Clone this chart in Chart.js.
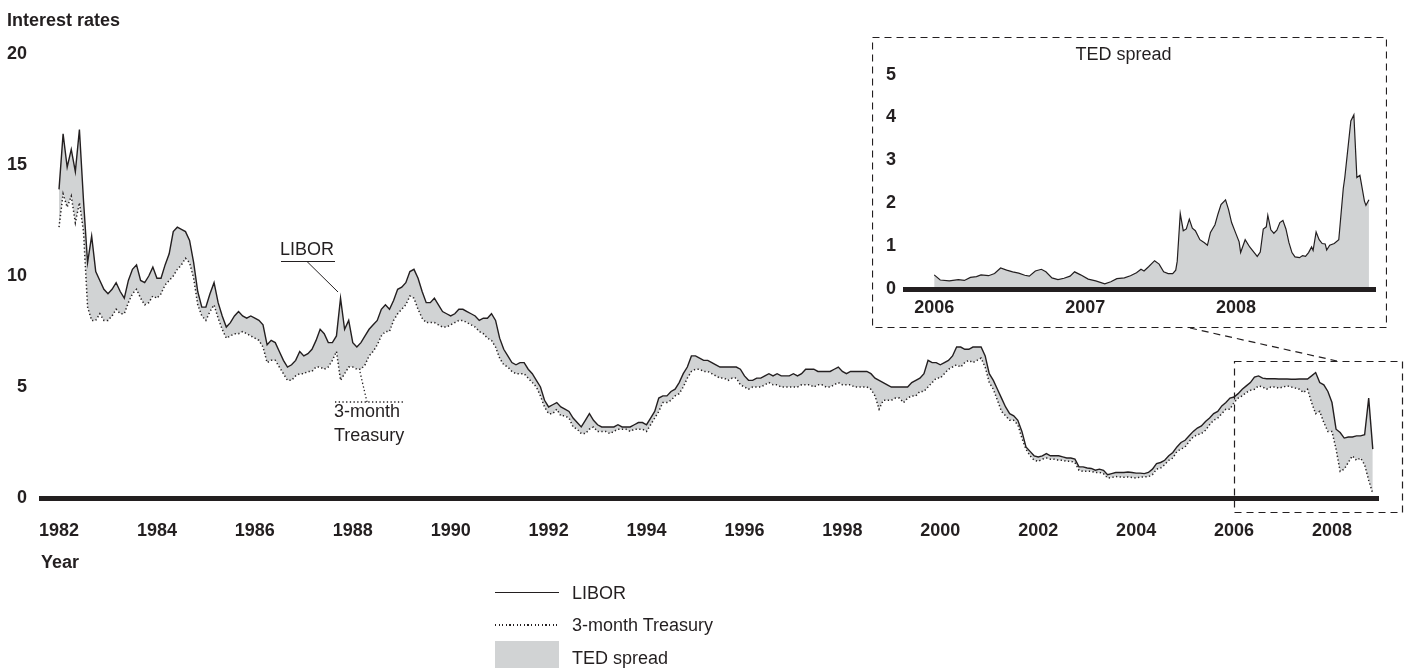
<!DOCTYPE html>
<html>
<head>
<meta charset="utf-8">
<script src="https://cdn.jsdelivr.net/npm/chart.js@4.4.1/dist/chart.umd.min.js"></script>
<style>
  body { margin: 0; background: #fff; }
  #wrap { position: relative; width: 1404px; height: 668px; font-family: "Liberation Sans", Arial, sans-serif; color: #231f20; }
  canvas { position: absolute; }
  .txt { position: absolute; font-size: 18px; line-height: 22px; white-space: nowrap; }
  .sw { position: absolute; left: 495px; width: 64px; }
</style>
</head>
<body>
<div id="wrap">
  <canvas id="main" width="1404" height="668" style="left:0;top:0"></canvas>
  <canvas id="inset" width="515" height="291" style="left:872px;top:37px"></canvas>
  <div class="txt" style="left:7px;top:9px;font-weight:bold">Interest rates</div>

  <div class="sw" style="top:592px;border-top:1.5px solid #231f20"></div>
  <div class="txt" style="left:572px;top:582px">LIBOR</div>
  <div class="sw" style="top:624px;height:1.5px;background:repeating-linear-gradient(to right,#231f20 0 1.3px,transparent 1.3px 3.6px)"></div>
  <div class="txt" style="left:572px;top:614px">3-month Treasury</div>
  <div class="sw" style="top:641px;height:27px;background:#d1d3d4"></div>
  <div class="txt" style="left:572px;top:647px">TED spread</div>
</div>
<script>
const ink = '#231f20';
const gray = '#d1d3d4';
const fam = '"Liberation Sans", Arial, sans-serif';

// monthly values, Jan 1982 .. Nov 2008
const startYear = 1982;
const libor = [
  13.9, 16.4, 14.9, 15.7, 14.7, 16.6, 13.4, 10.6, 11.8, 10.2, 9.8, 9.4,   // 1982
  9.2, 9.4, 9.7, 9.3, 9.0, 9.8, 10.3, 10.5, 9.8, 9.7, 10.0, 10.4,         // 1983
  9.9, 9.9, 10.5, 11.0, 12.0, 12.2, 12.1, 12.0, 11.6, 10.6, 9.3, 8.6,     // 1984
  8.6, 9.2, 9.7, 8.8, 8.2, 7.7, 7.9, 8.2, 8.4, 8.2, 8.1, 8.2,             // 1985
  8.1, 8.0, 7.8, 6.9, 7.1, 7.0, 6.6, 6.2, 5.9, 6.0, 6.2, 6.6,             // 1986
  6.4, 6.5, 6.7, 7.1, 7.6, 7.4, 7.0, 7.0, 7.3, 9.0, 7.6, 8.0,             // 1987
  7.0, 6.8, 7.0, 7.3, 7.6, 7.8, 8.0, 8.5, 8.7, 8.5, 8.9, 9.4,             // 1988
  9.5, 9.7, 10.2, 10.3, 9.9, 9.3, 8.8, 8.8, 9.0, 8.7, 8.4, 8.3,           // 1989
  8.2, 8.3, 8.5, 8.5, 8.4, 8.3, 8.2, 8.0, 8.1, 8.1, 8.3, 8.0,             // 1990
  7.2, 6.7, 6.4, 6.1, 6.0, 6.1, 6.1, 5.8, 5.6, 5.3, 5.0, 4.4,             // 1991
  4.1, 4.2, 4.3, 4.1, 4.0, 3.9, 3.6, 3.4, 3.2, 3.5, 3.8, 3.5,             // 1992
  3.3, 3.2, 3.2, 3.2, 3.2, 3.3, 3.2, 3.2, 3.2, 3.3, 3.4, 3.4,             // 1993
  3.3, 3.6, 3.9, 4.5, 4.6, 4.6, 4.8, 4.9, 5.2, 5.6, 5.9, 6.4,             // 1994
  6.4, 6.3, 6.2, 6.2, 6.1, 6.0, 5.9, 5.9, 5.9, 5.9, 5.9, 5.8,             // 1995
  5.5, 5.3, 5.3, 5.4, 5.4, 5.5, 5.6, 5.5, 5.6, 5.5, 5.5, 5.5,             // 1996
  5.6, 5.5, 5.6, 5.8, 5.8, 5.8, 5.7, 5.7, 5.7, 5.7, 5.8, 5.9,             // 1997
  5.7, 5.6, 5.7, 5.7, 5.7, 5.7, 5.7, 5.6, 5.4, 5.3, 5.2, 5.1,             // 1998
  5.0, 5.0, 5.0, 5.0, 5.0, 5.2, 5.3, 5.4, 5.6, 6.2, 6.1, 6.1,             // 1999
  6.0, 6.1, 6.2, 6.4, 6.8, 6.8, 6.7, 6.7, 6.8, 6.8, 6.8, 6.4,             // 2000
  5.6, 5.3, 4.9, 4.5, 4.1, 3.8, 3.7, 3.5, 3.0, 2.3, 2.1, 1.9,             // 2001
  1.85, 1.9, 2.0, 1.9, 1.9, 1.9, 1.85, 1.8, 1.8, 1.75, 1.4, 1.4,          // 2002
  1.35, 1.33, 1.25, 1.3, 1.25, 1.05, 1.1, 1.15, 1.15, 1.15, 1.17, 1.15,   // 2003
  1.12, 1.12, 1.1, 1.15, 1.3, 1.55, 1.6, 1.7, 1.9, 2.05, 2.3, 2.5,        // 2004
  2.6, 2.8, 3.0, 3.15, 3.25, 3.45, 3.6, 3.8, 3.9, 4.15, 4.3, 4.5,         // 2005
  4.55, 4.7, 4.9, 5.05, 5.2, 5.45, 5.5, 5.4, 5.37, 5.37, 5.37, 5.36,      // 2006
  5.36, 5.36, 5.35, 5.35, 5.36, 5.36, 5.36, 5.5, 5.65, 5.2, 5.1, 4.8,     // 2007
  4.3, 3.1, 2.95, 2.7, 2.75, 2.75, 2.8, 2.8, 2.85, 4.5, 2.2               // 2008
];
const treasury = [
  12.2, 13.7, 13.1, 13.6, 12.4, 13.3, 12.0, 8.6, 8.0, 8.0, 8.3, 8.0,      // 1982
  8.0, 8.2, 8.5, 8.3, 8.3, 8.8, 9.2, 9.4, 9.0, 8.7, 8.8, 9.1,             // 1983
  9.0, 9.2, 9.6, 9.8, 10.0, 10.3, 10.5, 10.8, 10.6, 9.9, 8.7, 8.2,        // 1984
  8.0, 8.4, 8.7, 8.1, 7.6, 7.2, 7.3, 7.4, 7.4, 7.5, 7.4, 7.3,             // 1985
  7.2, 7.1, 6.8, 6.1, 6.2, 6.2, 5.9, 5.6, 5.3, 5.3, 5.5, 5.6,             // 1986
  5.6, 5.7, 5.7, 5.9, 5.9, 5.8, 5.9, 6.2, 6.6, 5.3, 5.6, 5.9,             // 1987
  5.9, 5.8, 5.8, 6.0, 6.4, 6.6, 6.9, 7.3, 7.5, 7.5, 8.0, 8.3,             // 1988
  8.5, 8.7, 9.1, 9.0, 8.5, 8.1, 7.9, 7.9, 7.9, 7.8, 7.7, 7.7,             // 1989
  7.8, 7.9, 8.0, 8.0, 7.9, 7.8, 7.7, 7.5, 7.4, 7.2, 7.1, 6.8,             // 1990
  6.3, 6.0, 5.9, 5.7, 5.6, 5.6, 5.6, 5.4, 5.2, 5.0, 4.6, 4.1,             // 1991
  3.8, 3.8, 4.0, 3.7, 3.7, 3.6, 3.2, 3.1, 2.9, 2.9, 3.1, 3.2,             // 1992
  3.0, 3.0, 3.0, 2.9, 3.0, 3.1, 3.1, 3.1, 3.0, 3.1, 3.1, 3.1,             // 1993
  3.0, 3.3, 3.6, 3.9, 4.3, 4.3, 4.4, 4.6, 4.7, 5.0, 5.4, 5.7,             // 1994
  5.8, 5.8, 5.7, 5.7, 5.6, 5.5, 5.4, 5.4, 5.3, 5.4, 5.4, 5.1,             // 1995
  5.0, 4.9, 5.0, 5.0, 5.0, 5.1, 5.2, 5.1, 5.1, 5.0, 5.0, 5.0,             // 1996
  5.0, 5.0, 5.1, 5.1, 5.1, 5.0, 5.1, 5.1, 5.0, 5.0, 5.1, 5.2,             // 1997
  5.1, 5.1, 5.1, 5.0, 5.0, 5.0, 5.0, 4.9, 4.6, 4.0, 4.4, 4.4,             // 1998
  4.4, 4.5, 4.5, 4.3, 4.5, 4.6, 4.6, 4.8, 4.8, 5.0, 5.2, 5.4,             // 1999
  5.4, 5.6, 5.8, 5.9, 6.0, 5.9, 6.1, 6.2, 6.1, 6.2, 6.3, 5.9,             // 2000
  5.2, 4.9, 4.4, 3.9, 3.7, 3.5, 3.5, 3.3, 2.7, 2.2, 1.9, 1.7,             // 2001
  1.65, 1.75, 1.8, 1.75, 1.75, 1.7, 1.7, 1.65, 1.65, 1.6, 1.25, 1.2,      // 2002
  1.2, 1.2, 1.15, 1.15, 1.1, 0.9, 0.92, 0.97, 0.95, 0.93, 0.95, 0.92,     // 2003
  0.9, 0.94, 0.95, 0.96, 1.05, 1.3, 1.35, 1.5, 1.7, 1.8, 2.1, 2.2,        // 2004
  2.3, 2.55, 2.75, 2.85, 2.9, 3.05, 3.3, 3.5, 3.6, 3.8, 4.0, 4.0,         // 2005
  4.3, 4.5, 4.6, 4.75, 4.85, 4.9, 5.05, 5.0, 4.9, 5.0, 5.0, 4.95,         // 2006
  5.0, 5.05, 5.0, 4.95, 4.9, 4.75, 4.9, 4.3, 3.8, 3.9, 3.4, 3.0,          // 2007
  3.0, 2.2, 1.2, 1.3, 1.6, 1.9, 1.7, 1.8, 1.5, 0.8, 0.2                   // 2008
];
const yearTicks = [1982, 1984, 1986, 1988, 1990, 1992, 1994, 1996, 1998, 2000, 2002, 2004, 2006, 2008];
const rateTicks = [0, 5, 10, 15, 20];

// TED spread inset (LIBOR minus T-bill), 2006 .. late 2008
const tedYears = [
  2006.00, 2006.04, 2006.10, 2006.16, 2006.20, 2006.24, 2006.28, 2006.31, 2006.36, 2006.40,
  2006.44, 2006.48, 2006.52, 2006.56, 2006.60, 2006.63, 2006.67, 2006.71, 2006.74, 2006.78,
  2006.82, 2006.86, 2006.90, 2006.93, 2006.97, 2007.02, 2007.07, 2007.13, 2007.17, 2007.21,
  2007.26, 2007.30, 2007.34, 2007.37, 2007.39, 2007.42, 2007.46, 2007.49, 2007.52, 2007.55,
  2007.58, 2007.60, 2007.61, 2007.63, 2007.65, 2007.67, 2007.69, 2007.71, 2007.73, 2007.76,
  2007.79, 2007.81, 2007.83, 2007.86, 2007.88, 2007.90, 2007.93, 2007.95, 2007.97, 2008.00,
  2008.02, 2008.03, 2008.06, 2008.09, 2008.12, 2008.14, 2008.16, 2008.18, 2008.20, 2008.21,
  2008.23, 2008.25, 2008.27, 2008.29, 2008.31, 2008.33, 2008.35, 2008.37, 2008.39, 2008.42,
  2008.44, 2008.46, 2008.48, 2008.50, 2008.51, 2008.53, 2008.55, 2008.57, 2008.59, 2008.60,
  2008.62, 2008.65, 2008.68, 2008.71, 2008.72, 2008.76, 2008.78, 2008.80, 2008.82, 2008.85,
  2008.86, 2008.88
];
const tedSpread = [
  0.33, 0.21, 0.19, 0.22, 0.20, 0.27, 0.29, 0.33, 0.31, 0.36,
  0.49, 0.44, 0.40, 0.37, 0.32, 0.30, 0.42, 0.46, 0.40, 0.26,
  0.22, 0.25, 0.30, 0.40, 0.33, 0.23, 0.19, 0.12, 0.17, 0.24,
  0.26, 0.31, 0.38, 0.46, 0.42, 0.52, 0.66, 0.58, 0.40, 0.36,
  0.36, 0.44, 0.65, 1.76, 1.36, 1.40, 1.63, 1.42, 1.36, 1.15,
  1.08, 1.02, 1.32, 1.50, 1.75, 1.97, 2.08, 1.85, 1.55, 1.28,
  1.10, 0.85, 1.15, 0.98, 0.85, 0.76, 0.86, 1.40, 1.45, 1.72,
  1.38, 1.30, 1.37, 1.55, 1.60, 1.40, 1.08, 0.85, 0.75, 0.73,
  0.78, 0.76, 0.85, 0.98, 0.90, 1.33, 1.15, 1.06, 1.05, 0.91,
  1.02, 1.06, 1.15, 2.35, 2.60, 3.92, 4.06, 2.60, 2.65, 2.05,
  1.95, 2.08
];
const tedYearTicks = [2006, 2007, 2008];
const spreadTicks = [0, 1, 2, 3, 4, 5];

Chart.defaults.font.family = fam;
Chart.defaults.color = ink;

const months = libor.map((v, i) => startYear + i / 12);
const pts = (xs, ys) => xs.map((x, i) => ({ x: x, y: ys[i] }));
const tickFont = { family: fam, size: 18, weight: 'bold' };

function line(ctx, x1, y1, x2, y2) {
  ctx.beginPath(); ctx.moveTo(x1, y1); ctx.lineTo(x2, y2); ctx.stroke();
}

// callouts and the zoom box on the main chart
const callouts = {
  id: 'callouts',
  afterDraw(chart) {
    const { ctx, scales: { x, y } } = chart;
    ctx.save();
    ctx.strokeStyle = ink;
    ctx.fillStyle = ink;
    ctx.lineWidth = 1;
    ctx.font = '18px ' + fam;
    ctx.textBaseline = 'middle';

    ctx.fillText('LIBOR', 280, 250);
    line(ctx, 281, 261.5, 335, 261.5);
    line(ctx, 307, 261.5, 338, 292);

    ctx.fillText('3-month', 334, 412);
    ctx.fillText('Treasury', 334, 436);
    ctx.lineWidth = 1.3;
    ctx.setLineDash([1.3, 2.4]);
    line(ctx, 335, 402, 403, 402);
    line(ctx, 367, 402, 360, 372);

    ctx.lineWidth = 1.2;
    ctx.setLineDash([7, 5]);
    const bx = Math.round(x.getPixelForValue(2006)) + 0.5;
    ctx.strokeRect(bx, 361.5, 1402.5 - bx, 151);
    line(ctx, 1190, 328, 1337, 361);
    ctx.restore();
  }
};

new Chart(document.getElementById('main'), {
  type: 'line',
  data: {
    datasets: [
      {
        label: '3-month Treasury',
        data: pts(months, treasury),
        borderColor: ink, borderWidth: 1.5, borderDash: [1.3, 2.4],
        pointRadius: 0, fill: false, tension: 0
      },
      {
        label: 'LIBOR',
        data: pts(months, libor),
        borderColor: ink, borderWidth: 1.4,
        backgroundColor: gray, fill: '-1',
        pointRadius: 0, tension: 0
      }
    ]
  },
  options: {
    responsive: false,
    animation: false,
    events: [],
    layout: { padding: { left: 0, right: 26, top: 54, bottom: 94 } },
    plugins: { legend: { display: false }, tooltip: { enabled: false } },
    scales: {
      x: {
        type: 'linear', min: 1981.632, max: 2008.94,
        afterBuildTicks: s => { s.ticks = yearTicks.map(v => ({ value: v })); },
        afterFit: s => { s.height = 76; },
        grid: { display: false, drawTicks: false },
        border: { display: true, width: 5, color: ink, z: 1 },
        ticks: { padding: 22, font: tickFont, color: ink, autoSkip: false, maxRotation: 0, callback: v => String(v) },
        title: { display: true, text: 'Year', align: 'start', color: ink, font: tickFont, padding: 0 }
      },
      y: {
        min: 0, max: 20,
        afterBuildTicks: s => { s.ticks = rateTicks.map(v => ({ value: v })); },
        afterFit: s => { s.width = 41; },
        grid: { display: false, drawTicks: false },
        border: { display: false },
        ticks: { padding: 14, font: tickFont, color: ink }
      }
    }
  },
  plugins: [callouts]
});

// dashed frame around the inset
const frame = {
  id: 'frame',
  afterDraw(chart) {
    const ctx = chart.ctx;
    ctx.save();
    ctx.strokeStyle = ink;
    ctx.lineWidth = 1.2;
    ctx.setLineDash([7, 5]);
    ctx.strokeRect(0.5, 0.5, chart.width - 1, chart.height - 1);
    ctx.restore();
  }
};

new Chart(document.getElementById('inset'), {
  type: 'line',
  data: {
    datasets: [{
      label: 'TED spread',
      data: pts(tedYears, tedSpread),
      borderColor: ink, borderWidth: 1.2,
      backgroundColor: gray, fill: 'origin',
      pointRadius: 0, tension: 0
    }]
  },
  options: {
    responsive: false,
    animation: false,
    events: [],
    layout: { padding: { left: 0, right: 12, top: 0, bottom: 0 } },
    plugins: {
      legend: { display: false },
      tooltip: { enabled: false },
      title: { display: true, text: 'TED spread', color: ink, font: { family: fam, size: 18, weight: 'normal' }, padding: { top: 7, bottom: 9 } }
    },
    scales: {
      x: {
        type: 'linear', min: 2005.81, max: 2008.92,
        afterBuildTicks: s => { s.ticks = tedYearTicks.map(v => ({ value: v })); },
        afterFit: s => { s.height = 39; },
        grid: { display: false, drawTicks: false },
        border: { display: true, width: 5, color: ink, z: 1 },
        ticks: { padding: 8, font: tickFont, color: ink, autoSkip: false, maxRotation: 0, callback: v => String(v) }
      },
      y: {
        min: 0, max: 5,
        afterBuildTicks: s => { s.ticks = spreadTicks.map(v => ({ value: v })); },
        afterFit: s => { s.width = 33.5; },
        grid: { display: false, drawTicks: false },
        border: { display: false },
        ticks: { padding: 9.5, font: tickFont, color: ink }
      }
    }
  },
  plugins: [frame]
});
</script>
</body>
</html>
